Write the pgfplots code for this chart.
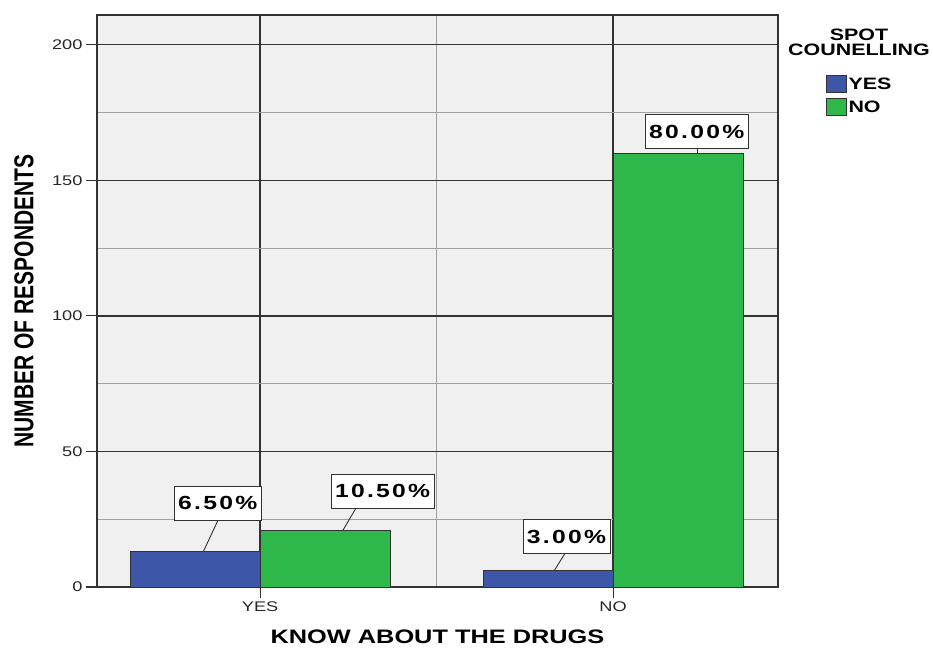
\documentclass[border=0pt]{standalone}
\usepackage{fontspec}
\setmainfont{Liberation Sans}[FakeStretch=1.3]
\newfontfamily\plainfont{Liberation Sans}
\newfontfamily\lblfont{Liberation Sans}[FakeStretch=1.3,LetterSpace=12]
\usepackage{pgfplots}
\pgfplotsset{compat=1.18}
\usetikzlibrary{calc}

\definecolor{spssblue}{RGB}{62,86,168}
\definecolor{spssgreen}{RGB}{46,184,74}
\definecolor{panelbg}{RGB}{240,240,240}
\definecolor{gridmajor}{RGB}{50,50,50}
\definecolor{gridminor}{RGB}{160,160,160}

% counts of respondents: know about the drugs (0 = YES, 1 = NO)
\pgfplotstableread{
x y
0 13
1 6
}\spotyes
\pgfplotstableread{
x y
0 21
1 160
}\spotno

\begin{document}
\begin{tikzpicture}[
  lbl/.style={draw=gridmajor, fill=white, line width=0.8pt,
    font=\lblfont\bfseries\fontsize{19}{19}\selectfont,
    inner xsep=4pt, inner ysep=0pt, minimum height=34pt},
  lead/.style={gridmajor, line width=0.9pt},
]
\begin{axis}[
  name=ax,
  scale only axis,
  clip mode=individual,
  width=681pt, height=572pt,
  xmin=-0.462, xmax=1.467, ymin=0, ymax=211,
  axis background/.style={fill=panelbg},
  ybar=0pt, bar width=130pt,
  xtick={0,1}, xticklabels={YES,NO},
  minor xtick={0.5},
  ytick={0,50,100,150,200}, minor ytick={25,75,125,175},
  grid=both,
  major grid style={gridmajor, line width=1.3pt},
  minor grid style={gridminor, line width=1pt},
  tick align=outside,
  xtick pos=lower, ytick pos=left,
  major tick length=11pt, minor tick length=0pt,
  tick style={gridmajor, line width=1.1pt},
  axis line style={gridmajor, line width=1.1pt},
  /pgf/number format/assume math mode=true,
  ticklabel style={font=\fontsize{14}{16}\selectfont, text=black!85},
  xlabel={KNOW ABOUT THE DRUGS},
  xlabel style={at={(axis description cs:0.5,0)}, anchor=center, yshift=-50pt,
    font=\bfseries\fontsize{19.5}{22}\selectfont},
  ylabel={\plainfont\bfseries\fontsize{21}{24}\selectfont\scalebox{1}[1.3]{NUMBER OF RESPONDENTS}},
  ylabel style={at={(axis description cs:-0.1072,0.5)}, anchor=center},
  legend style={draw=none, fill=none, at={(axis description cs:1,1)}, anchor=north west,
    xshift=48pt, yshift=-60pt, inner sep=0pt, row sep=5pt,
    font=\bfseries\fontsize{16.5}{17}\selectfont,
    nodes={inner sep=1.5pt}},
  legend cell align=left,
  legend image code/.code={\draw[#1, draw=gridmajor, line width=0.8pt] (0pt,-8pt) rectangle (20pt,9pt);},
]
\addplot[fill=spssblue, draw=gridmajor, line width=0.9pt] table[x=x, y=y] {\spotyes};
\addlegendentry{YES}
\addplot[fill=spssgreen, draw=gridmajor, line width=0.9pt] table[x=x, y=y] {\spotno};
\addlegendentry{NO}

% percentage callouts with leader lines
\draw[lead] (axis cs:-0.161,13) -- (axis cs:-0.119,24.7);
\draw[lead] (axis cs:0.235,21) -- (axis cs:0.272,29.2);
\draw[lead] (axis cs:0.833,6) -- (axis cs:0.864,12.5);
\draw[lead] (axis cs:1.238,160) -- (axis cs:1.238,161.6);
\node[lbl] at (axis cs:-0.120,31.0) {6.50\%};
\node[lbl] at (axis cs:0.347,35.4) {10.50\%};
\node[lbl] at (axis cs:0.868,18.6) {3.00\%};
\node[lbl] at (axis cs:1.237,167.9) {80.00\%};

% legend title
\node[font=\bfseries\fontsize{16.5}{15}\selectfont, align=center, inner sep=0pt]
  at (axis description cs:1,1) [xshift=81pt, yshift=-27.5pt] {SPOT\\COUNELLING};
\end{axis}
\pgfresetboundingbox
\path ($(ax.south west)+(-97pt,-61pt)$) rectangle ($(ax.north east)+(155pt,15pt)$);
\end{tikzpicture}
\end{document}
